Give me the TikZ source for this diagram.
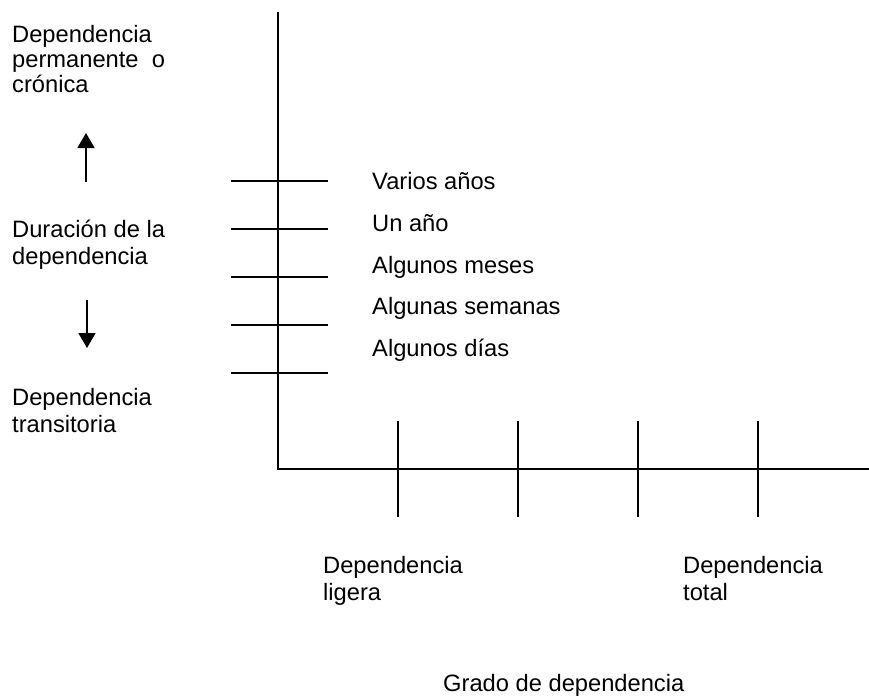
\documentclass[tikz,border=0pt]{standalone}
\usepackage{fontspec}
\setmainfont{Liberation Sans}
\usetikzlibrary{arrows.meta}
\begin{document}
\begin{tikzpicture}[x=1pt,y=-1pt,
  axis/.style={line width=1.7pt},
  lbl/.style={anchor=base west, inner sep=0pt, align=left, font=\fontsize{23.7}{26.5}\selectfont},
  arr/.style={line width=1.6pt, -{Triangle[width=17pt,length=15pt]}}]
\useasboundingbox (0,0) rectangle (869,696);
% axes
\coordinate (top) at (278,12);
\coordinate (O) at (278,469);
\coordinate (right) at (869,469);
\draw[axis] (top) -- (O) -- (right);
% duration ticks
\foreach \y [count=\i] in {181,229,277,325,373} {
  \coordinate (hl\i) at (231,\y);
  \coordinate (hr\i) at (328,\y);
  \draw[axis] (hl\i) -- (hr\i);
}
% degree ticks
\foreach \x [count=\i] in {398,518,638,758} {
  \coordinate (vt\i) at (\x,421);
  \coordinate (vb\i) at (\x,517);
  \draw[axis] (vt\i) -- (vb\i);
}
% arrows
\coordinate (ua) at (86,182);
\coordinate (ub) at (86,133);
\draw[arr] (ua) -- (ub);
\coordinate (da) at (87,300);
\coordinate (db) at (87,348);
\draw[arr] (da) -- (db);
% left labels (base anchor = baseline of last line)
\node[lbl, font=\fontsize{23.7}{25}\selectfont] (perm) at (12,92) {Dependencia\\permanente~\ o\\crónica};
\node[lbl] (dur) at (12,264) {Duración de la\\dependencia};
\node[lbl] (trans) at (12,432) {Dependencia\\transitoria};
% duration labels
\node[lbl] (d1) at (372,189) {Varios años};
\node[lbl] (d2) at (372,231) {Un año};
\node[lbl] (d3) at (372,273) {Algunos meses};
\node[lbl] (d4) at (372,314) {Algunas semanas};
\node[lbl] (d5) at (372,356) {Algunos días};
% degree labels
\node[lbl] (lig) at (323,600) {Dependencia\\ligera};
\node[lbl] (tot) at (683,600) {Dependencia\\total};
\node[lbl] (grado) at (443,691) {Grado de dependencia};
\end{tikzpicture}
\end{document}
